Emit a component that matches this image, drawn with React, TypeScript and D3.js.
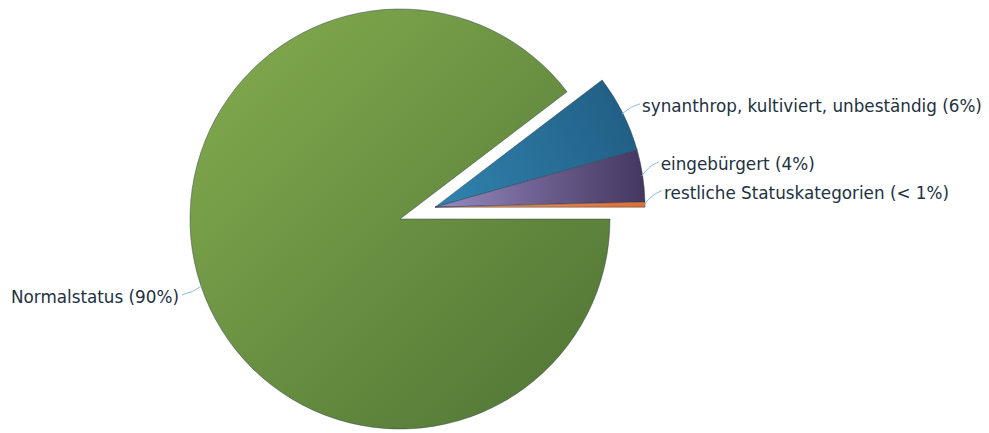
import React from "react";
import * as d3 from "d3";

// Status categories and their shares (percent)
const categories = [
  "Normalstatus",
  "synanthrop, kultiviert, unbeständig",
  "eingebürgert",
  "restliche Statuskategorien",
];
const shares = [90, 6, 4, 0.4];
const shareLabels = ["90%", "6%", "4%", "< 1%"];
const exploded = [false, true, true, true];

const W = 989;
const H = 433;
const cx = 400;
const cy = 219;
const R = 210;
const explodeDist = 37;

// fill gradients per slice: [start, end, x1, y1, x2, y2]
const gradients: [string, string, number, number, number, number][] = [
  ["#85ad4f", "#4e7334", 0, 0, 1, 1],
  ["#2f80ab", "#215e84", 0, 0.6, 1, 0.3],
  ["#978ac0", "#43365f", 0, 0.5, 1, 0.5],
  ["#f09a60", "#e06e30", 0, 0, 1, 0],
];

// leader-line offsets from the slice edge to the label anchor
const leaderOffsets: [number, number][] = [
  [-20, 9],
  [18, -10],
  [17, -14],
  [18, -14],
];

export default function App() {
  const pie = d3
    .pie<number>()
    .sort(null)
    .startAngle(Math.PI / 2)
    .endAngle(Math.PI / 2 + 2 * Math.PI)
    .value((d) => d);
  const arcsData = pie(shares);
  const arc = d3.arc<d3.PieArcDatum<number>>().innerRadius(0).outerRadius(R);

  // the exploded group moves outward along its joint bisector
  const exp = arcsData.filter((_, i) => exploded[i]);
  const gStart = d3.min(exp, (a) => a.startAngle)!;
  const gEnd = d3.max(exp, (a) => a.endAngle)!;
  const gMid = (gStart + gEnd) / 2;
  const ox = Math.sin(gMid) * explodeDist;
  const oy = -Math.cos(gMid) * explodeDist;

  return (
    <svg width={W} height={H} style={{ position: "absolute", left: 0, top: 0, background: "#fff" }}>
      <defs>
        {gradients.map((g, i) => (
          <linearGradient key={i} id={`g${i}`} x1={g[2]} y1={g[3]} x2={g[4]} y2={g[5]}>
            <stop offset="0%" stopColor={g[0]} />
            <stop offset="100%" stopColor={g[1]} />
          </linearGradient>
        ))}
      </defs>
      {arcsData.map((a, i) => {
        const dx = exploded[i] ? ox : 0;
        const dy = exploded[i] ? oy : 0;
        return (
          <path
            key={i}
            d={arc(a)!}
            transform={`translate(${cx + dx},${cy + dy})`}
            fill={`url(#g${i})`}
            stroke="#263848"
            strokeOpacity={0.55}
            strokeWidth={0.8}
            strokeLinejoin="round"
          />
        );
      })}
      {arcsData.map((a, i) => {
        const dx = exploded[i] ? ox : 0;
        const dy = exploded[i] ? oy : 0;
        const mid = (a.startAngle + a.endAngle) / 2;
        const x0 = cx + dx + Math.sin(mid) * (R - 1);
        const y0 = cy + dy - Math.cos(mid) * (R - 1);
        const [lx, ly] = leaderOffsets[i];
        const x1 = x0 + lx;
        const y1 = y0 + ly;
        const right = lx > 0;
        return (
          <g key={`l${i}`}>
            <path
              d={`M${x0},${y0} Q${x0 + lx * 0.45},${y0 + ly * 0.75} ${x1},${y1}`}
              fill="none"
              stroke="#8cbcdc"
              strokeWidth={1}
            />
            <text
              x={right ? x1 + 2 : x1 - 3}
              y={y1 + 2}
              textAnchor={right ? "start" : "end"}
              dominantBaseline="central"
              fontFamily="'DejaVu Sans', Verdana, sans-serif"
              fontSize={16.8}
              fill="#22313f"
            >
              {`${categories[i]} (${shareLabels[i]})`}
            </text>
          </g>
        );
      })}
    </svg>
  );
}
